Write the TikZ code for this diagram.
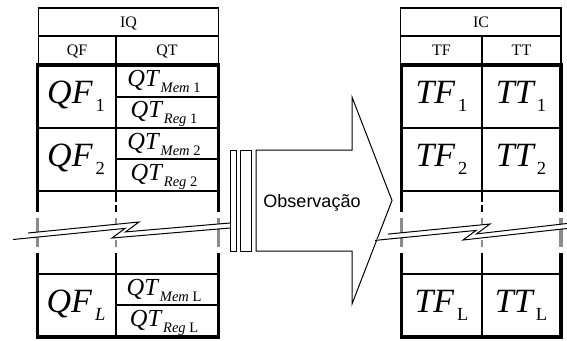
\documentclass[tikz,border=0pt]{standalone}
\usepackage{fontspec}
\setmainfont{Liberation Serif}
\newfontfamily\labelsans{Liberation Sans}

% big cell symbol: italic name with a lowered subscript
\newcommand{\cellsym}[2]{{\fontsize{34}{34}\selectfont\itshape #1}\hspace{3pt}\raisebox{-8.5pt}{\fontsize{18.5}{18.5}\selectfont #2}}
% QT symbol with a two-part subscript (italic word, upright index)
\newcommand{\qtsym}[2]{{\fontsize{24.5}{24.5}\selectfont\itshape QT}\hspace{2pt}\raisebox{-6pt}{\fontsize{14.5}{14.5}\selectfont\itshape #1\upshape\ #2}}

\begin{document}
\begin{tikzpicture}[x=1pt,y=-1pt,
  thinline/.style={line width=1.5pt,line cap=rect},
  thickline/.style={line width=3.5pt,line cap=rect},
  grayseg/.style={line width=3.5pt,draw=black!45},
  graydash/.style={line width=1.5pt,draw=black!45},
  outline/.style={line width=1pt,line join=miter},
  hdr/.style={inner sep=0pt,anchor=base,font=\fontsize{16}{16}\selectfont},
  sym/.style={inner sep=0pt,anchor=base}]
\useasboundingbox (0,0) rectangle (567,340);

% ---------------- left table (IQ) ----------------
\draw[thinline] (38.5,8) rectangle (218.5,64);
\draw[line width=2pt] (38.5,8) -- (218.5,8);
\draw[thinline] (38.5,36) -- (218.5,36);
\draw[thinline] (116,36) -- (116,64);
\node[hdr] (iq) at (128.5,27.5) {IQ};
\node[hdr] (qf) at (77,55.5) {QF};
\node[hdr] (qt) at (167,55.5) {QT};

% rows
\draw[thinline] (37.5,128) -- (218.5,128);
\draw[thinline] (37.5,191) -- (218.5,191);
\draw[thinline] (37.5,274) -- (218.5,274);
\draw[thinline] (116,97) -- (218.5,97);
\draw[thinline] (116,159) -- (218.5,159);
\draw[thinline] (116,305) -- (218.5,305);
% column divider, interrupted in the elided row
\draw[thinline,line cap=butt] (116,65) -- (116,202);
\draw[thinline,line cap=butt] (116,205) -- (116,212);
\draw[graydash] (116,218) -- (116,225);
\draw[graydash] (116,240) -- (116,247);
\draw[thinline,line cap=butt] (116,253) -- (116,337);
% thick frame
\draw[thickline,line cap=butt] (37.5,212) -- (37.5,65) -- (218.5,65) -- (218.5,212);
\draw[thickline,line cap=butt] (37.5,253) -- (37.5,337) -- (218.5,337) -- (218.5,253);
\draw[grayseg] (37.5,218) -- (37.5,247);
\draw[grayseg] (218.5,218) -- (218.5,247);

\node[sym] (qf1) at (76,103) {\cellsym{QF}{1}};
\node[sym] (qf2) at (76,166) {\cellsym{QF}{2}};
\node[sym] (qfl) at (76,312) {\cellsym{QF}{\itshape L}};
\node[sym] (qtm1) at (164,86) {\qtsym{Mem}{1}};
\node[sym] (qtr1) at (164,117.5) {\qtsym{Reg}{1}};
\node[sym] (qtm2) at (164,149) {\qtsym{Mem}{2}};
\node[sym] (qtr2) at (164,180.5) {\qtsym{Reg}{2}};
\node[sym] (qtml) at (164,295) {\qtsym{Mem}{L}};
\node[sym] (qtrl) at (164,326) {\qtsym{Reg}{L}};

% ---------------- right table (IC) ----------------
\draw[thinline] (400.5,8) rectangle (561,64);
\draw[line width=2pt] (400.5,8) -- (561,8);
\draw[thinline] (400.5,36) -- (561,36);
\draw[thinline] (482,36) -- (482,64);
\node[hdr] (ic) at (481,27.5) {IC};
\node[hdr] (tf) at (441.5,55.5) {TF};
\node[hdr] (tt) at (521.5,55.5) {TT};

\draw[thinline] (401.5,128) -- (561,128);
\draw[thinline] (401.5,191) -- (561,191);
\draw[thinline] (401.5,274) -- (561,274);
\draw[thinline,line cap=butt] (482,65) -- (482,202);
\draw[thinline,line cap=butt] (482,205) -- (482,212);
\draw[graydash] (482,218) -- (482,225);
\draw[graydash] (482,240) -- (482,247);
\draw[thinline,line cap=butt] (482,253) -- (482,337);
\draw[thickline,line cap=butt] (401.5,212) -- (401.5,65) -- (561,65) -- (561,212);
\draw[thickline,line cap=butt] (401.5,253) -- (401.5,337) -- (561,337) -- (561,253);
\draw[grayseg] (401.5,218) -- (401.5,247);
\draw[grayseg] (561,218) -- (561,247);

\node[sym] (tf1) at (441.5,103) {\cellsym{TF}{1}};
\node[sym] (tf2) at (441.5,166) {\cellsym{TF}{2}};
\node[sym] (tfl) at (441.5,312) {\cellsym{TF}{L}};
\node[sym] (tt1) at (521,103) {\cellsym{TT}{1}};
\node[sym] (tt2) at (521,166) {\cellsym{TT}{2}};
\node[sym] (ttl) at (521,312) {\cellsym{TT}{L}};

% ---------------- block arrow ----------------
\draw[outline,fill=white] (256,150) -- (352,150) -- (352,97) -- (392,200.5)
  -- (352,304) -- (352,251) -- (256,251) -- cycle;
\node[inner sep=0pt,anchor=base,font=\labelsans\fontsize{18}{18}\selectfont] (obs) at (312,207.5) {Observação};
\draw[outline,fill=white] (230.7,150) rectangle (236,251);
\draw[outline,fill=white] (240.7,150) rectangle (251,251);

% ---------------- break marks ----------------
\fill[white] (28,233) -- (139,222) -- (125.5,231.9) -- (230,223) -- (230,228)
  -- (112,238) -- (125.1,228.4) -- (13,239.5) -- cycle;
\draw[outline] (28,233) -- (139,222) -- (125.5,231.9) -- (230,223);
\draw[outline] (13,239.5) -- (125.1,228.4) -- (112,238) -- (230,228);

\fill[white] (388,234.1) -- (490,224) -- (476.5,233.9) -- (567,223.5) -- (567,228.5)
  -- (463,240) -- (476.1,230.4) -- (375,240.4) -- cycle;
\draw[outline] (388,234.1) -- (490,224) -- (476.5,233.9) -- (567,223.5);
\draw[outline] (375,240.4) -- (476.1,230.4) -- (463,240) -- (567,228.5);
\end{tikzpicture}
\end{document}
